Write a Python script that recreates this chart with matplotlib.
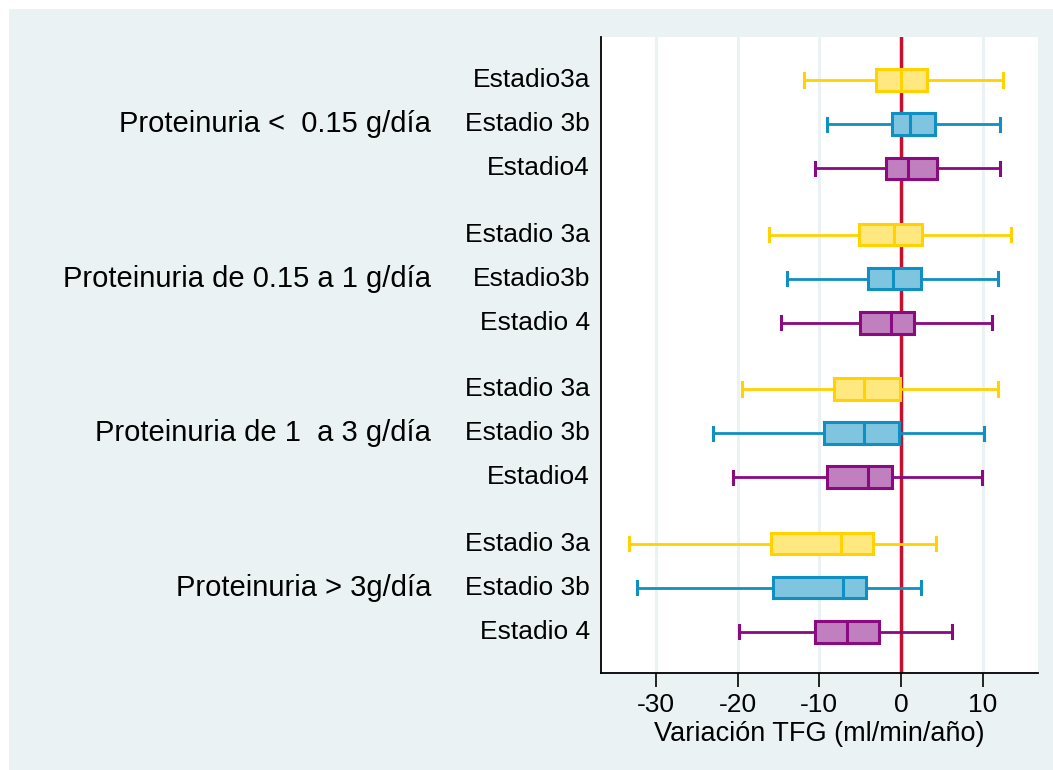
import matplotlib.pyplot as plt
from matplotlib.patches import Rectangle

plt.rcParams['font.family'] = ['Liberation Sans', 'DejaVu Sans']
plt.rcParams['axes.unicode_minus'] = False

# groups and stage labels (top to bottom)
grupos = ['Proteinuria <  0.15 g/día', 'Proteinuria de 0.15 a 1 g/día',
          'Proteinuria de 1  a 3 g/día', 'Proteinuria > 3g/día']
estadios = [['Estadio3a', 'Estadio 3b', 'Estadio4'],
            ['Estadio 3a', 'Estadio3b', 'Estadio 4'],
            ['Estadio 3a', 'Estadio 3b', 'Estadio4'],
            ['Estadio 3a', 'Estadio 3b', 'Estadio 4']]

# box stats per row: whisker low, q1, median, q3, whisker high
w_low = [-11.9, -9.0, -10.5, -16.2, -14.0, -14.7, -19.5, -23.0, -20.5, -33.3, -32.3, -19.8]
q1 = [-3.1, -1.1, -1.9, -5.1, -4.1, -5.0, -8.2, -9.4, -9.0, -15.85, -15.7, -10.5]
med = [0.0, 1.1, 0.8, -0.9, -0.95, -1.2, -4.5, -4.5, -4.1, -7.3, -7.1, -6.6]
q3 = [3.2, 4.2, 4.4, 2.6, 2.4, 1.6, -0.15, -0.3, -1.1, -3.4, -4.3, -2.7]
w_high = [12.5, 12.1, 12.1, 13.5, 11.9, 11.1, 11.8, 10.1, 9.9, 4.3, 2.5, 6.2]

bordes = ['#ffd200', '#0f8fc2', '#8a0a80']
rellenos = ['#ffe87f', '#80c5df', '#c080bf']
fondo = '#eaf2f3'

fig = plt.figure(figsize=(10.53, 7.70), dpi=100)
fig.patches.append(Rectangle((9 / 1053, 0), 1, 1 - 9 / 770, transform=fig.transFigure,
                             facecolor=fondo, edgecolor='none', zorder=-10))
ax = fig.add_axes([601 / 1053, 1 - 673.3 / 770, 437 / 1053, (673.3 - 37) / 770])
ax.set_facecolor('white')

ypos = []
for g in range(4):
    for r in range(3):
        ypos.append(g * 3.5 + r)

h = 0.49
for i, y in enumerate(ypos):
    c = bordes[i % 3]
    f = rellenos[i % 3]
    ax.plot([w_low[i], q1[i]], [y, y], color=c, lw=2, zorder=3)
    ax.plot([q3[i], w_high[i]], [y, y], color=c, lw=2, zorder=3)
    for w in (w_low[i], w_high[i]):
        ax.plot([w, w], [y - 0.15, y + 0.15], color=c, lw=2.2, zorder=3)
    ax.add_patch(Rectangle((q1[i], y - h / 2), q3[i] - q1[i], h,
                           facecolor=f, edgecolor=c, lw=2.2, zorder=4))
    ax.plot([med[i], med[i]], [y - h / 2, y + h / 2], color=c, lw=2.2, zorder=5)

ax.axvline(0, color='#c8102e', lw=2.5, zorder=2)

ax.set_xlim(-36.7, 16.75)
ax.set_ylim(12.5 + 0.94, -0.975)
ax.set_xticks([-30, -20, -10, 0, 10])
ax.tick_params(axis='x', labelsize=19, length=10, width=1.2, pad=4)
ax.set_yticks([])
ax.grid(axis='x', color=fondo, lw=2.2, zorder=0)
ax.set_axisbelow(True)
for s in ('top', 'right'):
    ax.spines[s].set_visible(False)
for s in ('left', 'bottom'):
    ax.spines[s].set_linewidth(1.3)
ax.set_xlabel('Variación TFG (ml/min/año)', fontsize=19.5, labelpad=3)

# stage labels next to each row, group labels beside the middle row
for i, y in enumerate(ypos):
    ax.text(-36.7 - 11 / 8.18, y, estadios[i // 3][i % 3], ha='right', va='center', fontsize=19)
for g in range(4):
    ax.text(-36.7 - 170 / 8.18, g * 3.5 + 1, grupos[g], ha='right', va='center', fontsize=21)

fig.savefig('out.png', dpi=100, facecolor='white')
